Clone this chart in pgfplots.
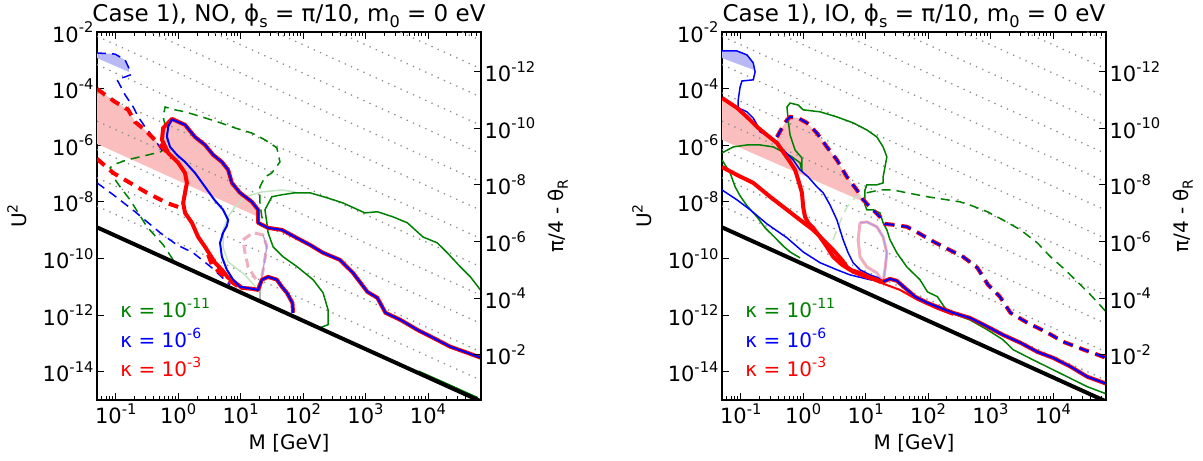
\documentclass[border=0pt]{standalone}
\usepackage{fontspec}
\setmainfont{DejaVu Sans}
\usepackage{graphicx}
\usepackage{pgfplots}
\pgfplotsset{compat=1.18}
\newcommand\sups[1]{\raisebox{0.45em}{\scalebox{0.7}{#1}}}
\newcommand\subs[1]{\raisebox{-0.22em}{\scalebox{0.7}{#1}}}
\definecolor{mplgreen}{RGB}{0,128,0}
\definecolor{mplblue}{RGB}{0,0,255}
\definecolor{mplred}{RGB}{255,0,0}
\definecolor{pinkfill}{RGB}{250,190,190}
\definecolor{bluefill}{RGB}{185,185,245}
\definecolor{dotgray}{RGB}{140,140,140}
\definecolor{loopink}{RGB}{240,175,190}
\definecolor{looppurple}{RGB}{190,150,215}
\definecolor{faintgreen}{RGB}{195,228,195}

\tikzset{
 kap/.style={anchor=west, font={\fontsize{20bp}{24bp}\selectfont}},
 dotline/.style={dotgray, line width=1.3bp, dash pattern=on 1.3bp off 5.5bp},
}
\pgfplotsset{
 panel/.style={
  scale only axis, width=384bp, height=368bp, anchor=south west,
  xmin=-1.3, xmax=4.85, ymin=-15, ymax=-2,
  axis line style={-, line width=1.6bp},
  xtick={-1,0,1,2,3,4},
  xticklabels={{10\sups{-1}},{10\sups{0}},{10\sups{1}},{10\sups{2}},{10\sups{3}},{10\sups{4}}},
  minor xtick={-1.222,-1.155,-1.097,-1.046,
   -0.699,-0.523,-0.398,-0.301,-0.222,-0.155,-0.097,-0.046,
   0.301,0.477,0.602,0.699,0.778,0.845,0.903,0.954,
   1.301,1.477,1.602,1.699,1.778,1.845,1.903,1.954,
   2.301,2.477,2.602,2.699,2.778,2.845,2.903,2.954,
   3.301,3.477,3.602,3.699,3.778,3.845,3.903,3.954,
   4.301,4.477,4.602,4.699,4.778},
  ytick={-14,-12,-10,-8,-6,-4,-2},
  yticklabels={{10\sups{-14}},{10\sups{-12}},{10\sups{-10}},{10\sups{-8}},{10\sups{-6}},{10\sups{-4}},{10\sups{-2}}},
  ytick pos=left, xtick pos=both,
  tick align=inside,
  major tick length=7bp, minor tick length=4bp,
  every tick/.style={black, line width=0.8bp},
  tick label style={font={\fontsize{21bp}{25bp}\selectfont}},
  xlabel={M [GeV]},
  ylabel={U\sups{2}},
  every axis x label/.style={at={(axis description cs:0.5,0)}, yshift=-43bp, anchor=center, font={\fontsize{20bp}{24bp}\selectfont}},
  every axis y label/.style={at={(axis description cs:0,0.5)}, xshift=-80bp, rotate=90, anchor=center, font={\fontsize{20bp}{24bp}\selectfont}},
  every axis title/.style={at={(axis description cs:0.5,1)}, anchor=base, yshift=10bp, font={\fontsize{23bp}{27bp}\selectfont}},
  no markers,
 },
 rpanel/.style={
  scale only axis, width=384bp, height=368bp, anchor=south west,
  xmin=-1.3, xmax=4.85, ymin=-13.4, ymax=-0.4, y dir=reverse,
  axis x line=none, axis y line*=right,
  axis line style={-, line width=1.6bp},
  ytick={-12,-10,-8,-6,-4,-2},
  yticklabels={{10\sups{-12}},{10\sups{-10}},{10\sups{-8}},{10\sups{-6}},{10\sups{-4}},{10\sups{-2}}},
  tick align=inside, major tick length=7bp,
  every tick/.style={black, line width=0.8bp},
  tick label style={font={\fontsize{21bp}{25bp}\selectfont}},
  ylabel={π/4 - θ\subs{R}},
  every axis y label/.style={at={(axis description cs:1,0.5)}, xshift=77bp, rotate=90, anchor=center, font={\fontsize{20bp}{24bp}\selectfont}},
 },
}

\begin{document}
\begin{tikzpicture}
\useasboundingbox (0,0) rectangle (1203bp,461bp);

% ================= LEFT PANEL (NO) =================
\begin{axis}[panel, at={(97bp,61bp)}, title={Case 1), NO, ϕ\subs{s} = π/10, m\subs{0} = 0 eV}]
\addplot[fill=bluefill, draw=none] coordinates {(-1.30,-2.74) (-1.01,-2.78) (-0.85,-2.99) (-0.79,-3.24) (-0.79,-3.41) (-1.30,-2.92)};
\addplot[fill=pinkfill, draw=none] coordinates {(-1.30,-4.01) (-1.01,-4.47) (-0.80,-4.75) (-0.69,-5.18) (-0.53,-5.46) (-0.42,-5.71) (-0.26,-6.06) (-0.26,-5.81) (-0.24,-5.39) (-0.10,-5.07) (0.11,-5.28) (0.27,-5.71) (0.43,-5.99) (0.56,-6.34) (0.70,-6.59) (0.80,-6.87) (0.86,-7.33) (0.99,-7.68) (1.18,-8.00) (1.28,-8.28) (1.28,-8.53) (-1.30,-5.95)};
% dotted lines of constant pi/4 - theta_R
\addplot[dotline] coordinates {(-1.3,-8.15) (4.85,-14.30)};
\addplot[dotline] coordinates {(-1.3,-7.15) (4.85,-13.30)};
\addplot[dotline] coordinates {(-1.3,-6.15) (4.85,-12.30)};
\addplot[dotline] coordinates {(-1.3,-5.15) (4.85,-11.30)};
\addplot[dotline] coordinates {(-1.3,-4.15) (4.85,-10.30)};
\addplot[dotline] coordinates {(-1.3,-3.15) (4.85,-9.30)};
\addplot[dotline] coordinates {(-1.3,-2.15) (4.85,-8.30)};
\addplot[dotline] coordinates {(-1.3,-1.15) (4.85,-7.30)};
\addplot[dotline] coordinates {(-1.3,-0.15) (4.85,-6.30)};
\addplot[dotline] coordinates {(-1.3,0.85) (4.85,-5.30)};
\addplot[dotline] coordinates {(-1.3,1.85) (4.85,-4.30)};
\addplot[dotline] coordinates {(-1.3,2.85) (4.85,-3.30)};
\addplot[dotline] coordinates {(-1.3,3.85) (4.85,-2.30)};
% faint lines
\addplot[faintgreen, line width=1.5bp] coordinates {(1.28,-11.11) (1.07,-10.58) (0.80,-10.12) (0.72,-9.62) (0.72,-8.99) (0.80,-8.53) (0.91,-8.18) (1.07,-7.82) (1.34,-7.65) (1.66,-7.58) (1.87,-7.65)};
\addplot[loopink, line width=3bp, dash pattern=on 9bp off 5bp] coordinates {(1.04,-9.34) (1.20,-9.09) (1.36,-9.17) (1.42,-9.59) (1.36,-10.40) (1.31,-11.00) (1.23,-10.68) (1.12,-10.30) (1.07,-9.80) (1.04,-9.34)};
\addplot[looppurple, line width=1.3bp] coordinates {(1.36,-9.17) (1.42,-9.59) (1.36,-10.40) (1.31,-11.00)};
\addplot[gray!60, line width=1.2bp] coordinates {(1.31,-11.00) (1.31,-11.46)};
% kappa = 1e-11
\addplot[mplgreen, line width=1.5bp, dash pattern=on 9bp off 6bp] coordinates {(-0.08,-10.05) (-0.24,-9.52) (-0.50,-8.88) (-0.77,-7.93) (-0.93,-7.47) (-1.04,-7.12) (-1.09,-6.80) (-1.04,-6.69) (-0.82,-6.52) (-0.61,-6.41) (-0.29,-6.24) (-0.16,-6.06) (-0.18,-5.57) (-0.24,-5.00) (-0.21,-4.65) (-0.05,-4.75) (0.11,-4.82) (0.38,-5.00) (0.64,-5.18) (0.91,-5.39) (1.18,-5.57) (1.39,-5.81) (1.58,-6.09) (1.63,-6.59) (1.50,-6.98) (1.39,-7.12) (1.31,-7.47) (1.31,-8.04) (1.34,-8.53) (1.39,-8.88)};
\addplot[mplgreen, line width=1.5bp] coordinates {(2.27,-12.45) (2.40,-12.34) (2.40,-11.81) (2.32,-11.21) (2.16,-10.75) (1.91,-10.30) (1.68,-9.94) (1.52,-9.59) (1.44,-9.09) (1.42,-8.74) (1.39,-8.28) (1.50,-7.82) (1.66,-7.75) (1.87,-7.68) (2.11,-7.68) (2.39,-7.86) (2.64,-8.04) (2.99,-8.39) (3.19,-8.35) (3.44,-8.53) (3.67,-8.74) (3.92,-9.24) (4.15,-9.45) (4.31,-9.80) (4.52,-10.30) (4.68,-10.65) (4.85,-11.14)};
\addplot[mplgreen, line width=1.5bp] coordinates {(3.85,-13.98) (4.30,-14.42) (4.80,-14.92)};
% kappa = 1e-6 dashed
\addplot[mplblue, line width=1.5bp, dash pattern=on 9bp off 6bp] coordinates {(-1.30,-2.74) (-1.01,-2.78) (-0.85,-2.99) (-0.79,-3.27) (-0.77,-3.52) (-0.98,-3.69) (-0.96,-3.76) (-0.85,-4.22) (-0.72,-4.65) (-0.64,-5.00) (-0.53,-5.35) (-0.45,-5.57) (-0.34,-5.92) (-0.24,-6.24)};
\addplot[mplblue, line width=1.5bp, dash pattern=on 9bp off 6bp] coordinates {(-1.30,-7.33) (-1.04,-7.75) (-0.69,-8.35) (-0.29,-9.09) (-0.02,-9.52) (0.24,-9.80) (0.54,-10.33) (0.83,-10.93)};
% kappa = 1e-3 dashed
\addplot[mplred, line width=4bp, dash pattern=on 10bp off 7bp] coordinates {(-1.30,-4.01) (-1.01,-4.47) (-0.80,-4.75) (-0.69,-5.18) (-0.53,-5.46) (-0.42,-5.71) (-0.26,-6.06) (-0.18,-6.24) (-0.10,-6.45)};
\addplot[mplred, line width=4bp, dash pattern=on 10bp off 7bp] coordinates {(-1.30,-6.48) (-1.04,-6.98) (-0.77,-7.33) (-0.50,-7.68) (-0.18,-8.04) (0.00,-8.18)};
\addplot[mplred, line width=4bp, dash pattern=on 10bp off 7bp] coordinates {(0.48,-9.87) (0.54,-10.22) (0.67,-10.51) (0.83,-10.79) (1.04,-11.11)};
% solid kappa = 1e-3 and 1e-6
\addplot[mplred, line width=4bp, line join=round] coordinates {(1.84,-11.92) (1.83,-11.57) (1.74,-11.21) (1.66,-11.00) (1.58,-10.75) (1.44,-10.65) (1.34,-10.75) (1.28,-11.11) (1.18,-11.07) (1.02,-11.04) (0.96,-10.93) (0.80,-10.68) (0.70,-10.40) (0.59,-10.15) (0.51,-9.87) (0.43,-9.59) (0.32,-9.24) (0.22,-8.74) (0.11,-8.39) (0.08,-8.04) (0.11,-7.68) (0.14,-7.33) (0.11,-6.98) (0.00,-6.62) (-0.16,-6.27) (-0.26,-5.81) (-0.24,-5.39) (-0.10,-5.07) (0.11,-5.28) (0.27,-5.71) (0.43,-5.99) (0.56,-6.34) (0.70,-6.59) (0.80,-6.87) (0.86,-7.33) (0.99,-7.68) (1.18,-8.00) (1.28,-8.28) (1.28,-8.74) (1.44,-8.92) (1.66,-8.99) (1.87,-9.24) (2.11,-9.52) (2.32,-9.80) (2.59,-10.05) (2.80,-10.51) (3.03,-11.18) (3.19,-11.39) (3.32,-11.92) (3.56,-12.17) (3.83,-12.52) (4.08,-12.80) (4.36,-13.12) (4.63,-13.33) (4.85,-13.51)};
\addplot[mplblue, line width=2bp, line join=round] coordinates {(1.84,-11.92) (1.83,-11.57) (1.74,-11.21) (1.66,-11.00) (1.58,-10.75) (1.44,-10.65) (1.34,-10.75) (1.28,-11.11) (1.18,-11.07) (0.99,-11.00) (0.88,-10.75) (0.78,-10.40) (0.70,-9.94) (0.67,-9.45) (0.72,-9.09) (0.78,-8.85) (0.80,-8.64) (0.72,-8.28) (0.58,-7.93) (0.43,-7.47) (0.27,-6.98) (0.11,-6.59) (-0.02,-6.34) (-0.13,-6.06) (-0.18,-5.71) (-0.16,-5.35) (-0.10,-5.09) (0.11,-5.28) (0.27,-5.71) (0.43,-5.99) (0.56,-6.34) (0.70,-6.59) (0.80,-6.87) (0.86,-7.33) (0.99,-7.68) (1.18,-8.00) (1.28,-8.28) (1.28,-8.74) (1.44,-8.92) (1.66,-8.99) (1.87,-9.24) (2.11,-9.52) (2.32,-9.80) (2.59,-10.05) (2.80,-10.51) (3.03,-11.18) (3.19,-11.39) (3.32,-11.92) (3.56,-12.17) (3.83,-12.52) (4.08,-12.80) (4.36,-13.12) (4.63,-13.33) (4.85,-13.51)};
% seesaw line
\addplot[black, line width=4bp] coordinates {(-1.3,-8.9) (4.85,-15.05)};
\node[kap, text=mplgreen] at (axis description cs:0.052,0.25) {κ = 10\sups{-11}};
\node[kap, text=mplblue] at (axis description cs:0.052,0.168) {κ = 10\sups{-6}};
\node[kap, text=mplred] at (axis description cs:0.052,0.09) {κ = 10\sups{-3}};
\end{axis}
\begin{axis}[rpanel, at={(97bp,61bp)}]
\end{axis}

% ================= RIGHT PANEL (IO) =================
\begin{axis}[panel, at={(722bp,61bp)}, title={Case 1), IO, ϕ\subs{s} = π/10, m\subs{0} = 0 eV}]
\addplot[fill=bluefill, draw=none] coordinates {(-1.30,-2.67) (-1.06,-2.67) (-0.90,-2.81) (-0.80,-3.09) (-0.79,-3.34) (-1.30,-2.92)};
\addplot[fill=pinkfill, draw=none] coordinates {(-1.30,-4.33) (-1.06,-4.68) (-0.90,-5.00) (-0.74,-5.35) (-0.58,-5.64) (-0.42,-5.92) (-0.42,-5.71) (-0.34,-5.39) (-0.26,-5.11) (-0.21,-5.00) (-0.08,-5.04) (0.06,-5.21) (0.22,-5.57) (0.38,-6.06) (0.54,-6.52) (0.70,-7.12) (0.86,-7.58) (0.96,-7.93) (1.01,-8.04) (-1.30,-5.81)};
\addplot[dotline] coordinates {(-1.3,-8.15) (4.85,-14.30)};
\addplot[dotline] coordinates {(-1.3,-7.15) (4.85,-13.30)};
\addplot[dotline] coordinates {(-1.3,-6.15) (4.85,-12.30)};
\addplot[dotline] coordinates {(-1.3,-5.15) (4.85,-11.30)};
\addplot[dotline] coordinates {(-1.3,-4.15) (4.85,-10.30)};
\addplot[dotline] coordinates {(-1.3,-3.15) (4.85,-9.30)};
\addplot[dotline] coordinates {(-1.3,-2.15) (4.85,-8.30)};
\addplot[dotline] coordinates {(-1.3,-1.15) (4.85,-7.30)};
\addplot[dotline] coordinates {(-1.3,-0.15) (4.85,-6.30)};
\addplot[dotline] coordinates {(-1.3,0.85) (4.85,-5.30)};
\addplot[dotline] coordinates {(-1.3,1.85) (4.85,-4.30)};
\addplot[dotline] coordinates {(-1.3,2.85) (4.85,-3.30)};
\addplot[dotline] coordinates {(-1.3,3.85) (4.85,-2.30)};
% faint
\addplot[faintgreen, line width=1.5bp, dash pattern=on 9bp off 6bp] coordinates {(0.48,-9.34) (0.59,-8.71) (0.70,-8.18) (0.83,-7.86) (1.02,-7.68)};
\addplot[loopink, line width=3bp] coordinates {(0.91,-8.74) (1.02,-8.71) (1.18,-8.88) (1.28,-9.24) (1.34,-9.80) (1.31,-10.40) (1.28,-10.86) (1.18,-10.51) (1.02,-10.30) (0.91,-9.94) (0.88,-9.34) (0.91,-8.74)};
\addplot[looppurple, line width=1.2bp] coordinates {(0.91,-8.74) (1.02,-8.71) (1.18,-8.88) (1.28,-9.24) (1.34,-9.80) (1.31,-10.40) (1.28,-10.86)};
% kappa = 1e-11
\addplot[mplgreen, line width=1.5bp] coordinates {(-0.02,-6.94) (-0.02,-6.45) (-0.13,-6.17) (-0.21,-5.64) (-0.24,-5.11) (-0.26,-4.65) (-0.21,-4.51) (-0.08,-4.58) (0.00,-4.75) (0.27,-4.82) (0.54,-5.00) (0.80,-5.21) (1.02,-5.46) (1.18,-5.71) (1.28,-6.06) (1.34,-6.41) (1.31,-6.77) (1.28,-7.12) (1.28,-7.33) (1.18,-7.40) (1.02,-7.40) (0.99,-7.58) (0.99,-8.11) (1.02,-8.28) (1.12,-8.28) (1.23,-8.39) (1.28,-8.74) (1.34,-8.99) (1.39,-9.34) (1.50,-9.80) (1.66,-10.30) (1.87,-10.75) (1.99,-11.18) (2.15,-11.35) (2.31,-11.88) (2.67,-12.17) (2.95,-12.52) (3.20,-12.87) (3.36,-13.22) (3.68,-13.58) (4.00,-13.93) (4.23,-14.18) (4.55,-14.53) (4.85,-14.78)};
\addplot[mplgreen, line width=1.5bp] coordinates {(-1.30,-6.27) (-1.12,-6.06) (-0.90,-5.99) (-0.69,-5.99) (-0.48,-6.06) (-0.32,-6.24) (-0.18,-6.41) (-0.05,-6.62) (-0.02,-6.94)};
\addplot[mplgreen, line width=1.5bp] coordinates {(-1.30,-6.52) (-1.17,-6.98) (-1.09,-7.47) (-1.01,-7.79) (-0.90,-8.14) (-0.74,-8.53) (-0.61,-8.92) (-0.48,-9.20) (-0.32,-9.56) (-0.21,-9.77) (-0.05,-9.98)};
\addplot[mplgreen, line width=1.5bp, dash pattern=on 9bp off 6bp] coordinates {(1.02,-7.68) (1.23,-7.58) (1.44,-7.58) (1.66,-7.68) (1.99,-7.82) (2.31,-7.93) (2.51,-8.00) (2.67,-8.11) (2.95,-8.35) (3.20,-8.64) (3.48,-8.99) (3.75,-9.45) (3.96,-9.94) (4.16,-10.33) (4.39,-10.82) (4.60,-11.28) (4.85,-11.88)};
% kappa = 1e-6 solid (thin branches)
\addplot[mplblue, line width=1.5bp] coordinates {(-1.30,-2.67) (-1.06,-2.67) (-0.90,-2.81) (-0.80,-3.09) (-0.77,-3.41) (-0.80,-3.69) (-0.98,-3.73) (-1.01,-3.94) (-1.04,-4.40) (-1.04,-4.68) (-0.90,-4.82) (-0.80,-5.04) (-0.72,-5.35) (-0.69,-5.53) (-0.53,-5.71) (-0.42,-5.92) (-0.32,-6.17) (-0.24,-6.34) (-0.16,-6.52) (-0.05,-6.87) (0.08,-7.12) (0.22,-7.47) (0.32,-7.68) (0.43,-8.11) (0.54,-8.64) (0.64,-9.34) (0.72,-9.80) (0.80,-10.15) (0.91,-10.40) (1.07,-10.58) (1.20,-10.68) (1.28,-10.82)};
\addplot[mplblue, line width=1.5bp] coordinates {(-1.30,-7.58) (-1.06,-7.93) (-0.85,-8.28) (-0.58,-8.78) (-0.26,-9.27) (0.00,-9.77) (0.27,-10.15) (0.54,-10.40) (0.75,-10.58) (1.07,-10.75) (1.28,-10.82)};
% kappa = 1e-3 solid
\addplot[mplred, line width=4bp, line join=round] coordinates {(-1.30,-4.33) (-1.06,-4.68) (-0.90,-5.00) (-0.74,-5.35) (-0.58,-5.64) (-0.42,-5.92) (-0.32,-6.24) (-0.21,-6.59) (-0.13,-6.87) (-0.08,-7.22) (-0.02,-7.68) (0.00,-8.18) (0.03,-8.53) (0.08,-8.74) (0.16,-8.92) (0.27,-9.24) (0.38,-9.59) (0.48,-9.94) (0.62,-10.22) (0.75,-10.40) (0.91,-10.51) (1.07,-10.68) (1.23,-10.82) (1.28,-10.82)};
\addplot[mplred, line width=4bp, line join=round] coordinates {(-1.30,-6.77) (-1.06,-7.05) (-0.80,-7.33) (-0.53,-7.82) (-0.26,-8.28) (-0.05,-8.64) (0.16,-8.99) (0.32,-9.34) (0.48,-9.70) (0.62,-10.05) (0.70,-10.30) (0.80,-10.47) (1.02,-10.65) (1.18,-10.75) (1.28,-10.86)};
\addplot[mplred, line width=2bp] coordinates {(1.28,-10.89) (1.55,-11.11) (1.83,-11.46) (2.15,-11.78) (2.40,-11.99)};
\addplot[mplred, line width=4bp, line join=round] coordinates {(1.28,-10.82) (1.39,-10.72) (1.50,-10.79) (1.63,-11.04) (1.79,-11.35) (1.99,-11.57) (2.15,-11.71) (2.40,-11.92) (2.67,-12.10) (2.95,-12.41) (3.20,-12.70) (3.48,-12.98) (3.75,-13.30) (4.00,-13.51) (4.28,-13.82) (4.55,-14.18) (4.85,-14.42)};
\addplot[mplblue, line width=2bp, line join=round] coordinates {(1.28,-10.82) (1.39,-10.72) (1.50,-10.79) (1.63,-11.04) (1.79,-11.35) (1.99,-11.57) (2.15,-11.71) (2.40,-11.92) (2.67,-12.10) (2.95,-12.41) (3.20,-12.70) (3.48,-12.98) (3.75,-13.30) (4.00,-13.51) (4.28,-13.82) (4.55,-14.18) (4.85,-14.42)};
% kappa = 1e-3 and 1e-6 dashed
\addplot[mplred, line width=4bp, dash pattern=on 10bp off 7bp] coordinates {(-0.42,-5.71) (-0.34,-5.39) (-0.26,-5.11) (-0.21,-5.00) (-0.08,-5.04) (0.06,-5.21) (0.22,-5.57) (0.38,-6.06) (0.54,-6.52) (0.70,-7.12) (0.86,-7.58) (0.96,-7.93) (1.07,-8.18) (1.23,-8.53) (1.31,-8.78) (1.44,-8.81) (1.66,-8.88) (1.87,-9.13) (2.03,-9.34) (2.31,-9.66) (2.56,-9.94) (2.79,-10.33) (2.96,-10.93) (3.15,-11.35) (3.32,-11.92) (3.59,-12.27) (3.91,-12.62) (4.16,-12.94) (4.49,-13.22) (4.85,-13.51)};
\addplot[mplblue, line width=2bp, dash pattern=on 10bp off 7bp] coordinates {(-0.42,-5.71) (-0.34,-5.39) (-0.26,-5.11) (-0.21,-5.00) (-0.08,-5.04) (0.06,-5.21) (0.22,-5.57) (0.38,-6.06) (0.54,-6.52) (0.70,-7.12) (0.86,-7.58) (0.96,-7.93) (1.07,-8.18) (1.23,-8.53) (1.31,-8.78) (1.44,-8.81) (1.66,-8.88) (1.87,-9.13) (2.03,-9.34) (2.31,-9.66) (2.56,-9.94) (2.79,-10.33) (2.96,-10.93) (3.15,-11.35) (3.32,-11.92) (3.59,-12.27) (3.91,-12.62) (4.16,-12.94) (4.49,-13.22) (4.85,-13.51)};
% seesaw line
\addplot[black, line width=4bp] coordinates {(-1.3,-8.9) (4.85,-15.05)};
\node[kap, text=mplgreen] at (axis description cs:0.052,0.25) {κ = 10\sups{-11}};
\node[kap, text=mplblue] at (axis description cs:0.052,0.168) {κ = 10\sups{-6}};
\node[kap, text=mplred] at (axis description cs:0.052,0.09) {κ = 10\sups{-3}};
\end{axis}
\begin{axis}[rpanel, at={(722bp,61bp)}]
\end{axis}
\end{tikzpicture}
\end{document}
